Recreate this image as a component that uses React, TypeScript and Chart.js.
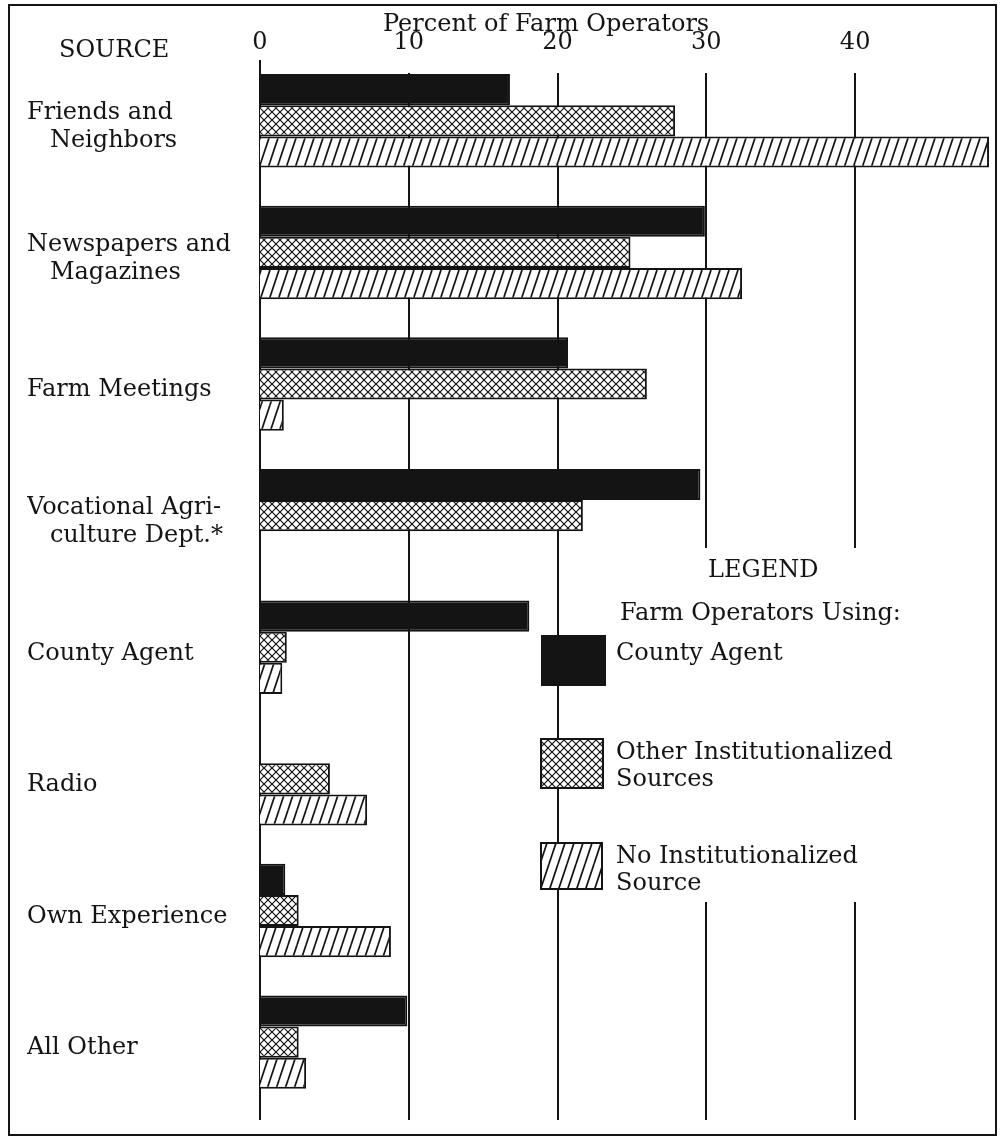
import React, { useEffect, useRef } from "react";
import { Chart, registerables } from "chart.js";

Chart.register(...registerables);

// ---------- data ----------
const CATEGORIES: string[][] = [
  ["Friends and", "   Neighbors"],
  ["Newspapers and", "   Magazines"],
  ["Farm Meetings"],
  ["Vocational Agri-", "   culture Dept.*"],
  ["County Agent"],
  ["Radio"],
  ["Own Experience"],
  ["All Other"],
];
const COUNTY_AGENT: (number | null)[] = [16.8, 29.9, 20.7, 29.6, 18.1, null, 1.7, 9.9];
const OTHER_INST: (number | null)[] = [27.9, 24.9, 26.0, 21.7, 1.8, 4.7, 2.6, 2.6];
const NO_INST: (number | null)[] = [49.0, 32.4, 1.6, null, 1.5, 7.2, 8.8, 3.1];
const X_TICKS = [0, 10, 20, 30, 40];
const X_MAX = 49.4;
const SERIES_NAMES = ["County Agent", "Other Institutionalized Sources", "No Institutionalized Source"];
const LEGEND_LINES: string[][] = [["County Agent"], ["Other Institutionalized", "Sources"], ["No Institutionalized", "Source"]];
const AXIS_TITLE = "Percent of Farm Operators";
const SOURCE_LABEL = "SOURCE";
const LEGEND_TITLE = "LEGEND";
const LEGEND_SUBTITLE = "Farm Operators Using:";

const INK = "#141414";
const FONT_FAMILY = '"DejaVu Serif", "Liberation Serif", serif';
const FONT_SIZE = 24;

function makeCross(): CanvasPattern | string {
  const c = document.createElement("canvas");
  c.width = 8;
  c.height = 8;
  const g = c.getContext("2d");
  if (!g) return "#fff";
  g.fillStyle = "#fff";
  g.fillRect(0, 0, 8, 8);
  g.strokeStyle = INK;
  g.lineWidth = 1.2;
  for (const k of [-8, 0, 8]) {
    g.beginPath();
    g.moveTo(k, 0);
    g.lineTo(k + 8, 8);
    g.stroke();
    g.beginPath();
    g.moveTo(k, 8);
    g.lineTo(k + 8, 0);
    g.stroke();
  }
  return g.createPattern(c, "repeat") || "#fff";
}

function makeHatch(): CanvasPattern | string {
  const w = 9;
  const h = 27;
  const c = document.createElement("canvas");
  c.width = w;
  c.height = h;
  const g = c.getContext("2d");
  if (!g) return "#fff";
  g.fillStyle = "#fff";
  g.fillRect(0, 0, w, h);
  g.strokeStyle = INK;
  g.lineWidth = 1.7;
  for (const k of [-1, 0, 1]) {
    g.beginPath();
    g.moveTo(k * w, h);
    g.lineTo(k * w + w, 0);
    g.stroke();
  }
  return g.createPattern(c, "repeat") || "#fff";
}

export default function App() {
  const ref = useRef<HTMLCanvasElement | null>(null);

  useEffect(() => {
    const canvas = ref.current;
    if (!canvas) return;
    const cross = makeCross();
    const hatch = makeHatch();
    const fills: any[] = [INK, cross, hatch];

    const decor = {
      id: "decor",
      beforeDraw(chart: any) {
        const ctx = chart.ctx;
        ctx.save();
        ctx.fillStyle = "#fff";
        ctx.fillRect(0, 0, chart.width, chart.height);
        ctx.restore();
      },
      beforeDatasetsDraw(chart: any) {
        const ctx = chart.ctx;
        const xs = chart.scales.x;
        ctx.save();
        ctx.strokeStyle = INK;
        ctx.lineWidth = 2;
        X_TICKS.forEach((v) => {
          const x = Math.round(xs.getPixelForValue(v));
          const top = v === 0 ? 60 : 73;
          const bottom = 1120;
          ctx.beginPath();
          if (v >= 30) {
            ctx.moveTo(x, top);
            ctx.lineTo(x, 548);
            ctx.moveTo(x, 902);
            ctx.lineTo(x, bottom);
          } else {
            ctx.moveTo(x, top);
            ctx.lineTo(x, bottom);
          }
          ctx.stroke();
        });
        ctx.restore();
      },
      afterDraw(chart: any) {
        const ctx = chart.ctx;
        ctx.save();
        ctx.fillStyle = INK;
        ctx.font = `${FONT_SIZE}px ${FONT_FAMILY}`;
        ctx.textBaseline = "middle";
        ctx.textAlign = "left";
        ctx.fillText(AXIS_TITLE, 383, 25);
        ctx.fillText(SOURCE_LABEL, 59, 51);

        // legend
        ctx.fillText(LEGEND_TITLE, 708, 571);
        ctx.fillText(LEGEND_SUBTITLE, 620, 614);
        const boxes = [
          { x: 542, y: 636, w: 63, h: 49, ty: 654 },
          { x: 541, y: 739, w: 62, h: 49, ty: 753 },
          { x: 541, y: 843, w: 61, h: 46, ty: 857 },
        ];
        boxes.forEach((b, i) => {
          ctx.fillStyle = fills[i];
          ctx.fillRect(b.x, b.y, b.w, b.h);
          ctx.strokeStyle = INK;
          ctx.lineWidth = 2;
          ctx.strokeRect(b.x, b.y, b.w, b.h);
          ctx.fillStyle = INK;
          LEGEND_LINES[i].forEach((line, j) => {
            ctx.fillText(line, 616, b.ty + j * 27);
          });
        });

        // frame
        ctx.strokeStyle = INK;
        ctx.lineWidth = 2;
        ctx.strokeRect(9, 5, 987, 1130);
        ctx.restore();
      },
    };

    const chart = new Chart(canvas, {
      type: "bar",
      data: {
        labels: CATEGORIES,
        datasets: [
          { label: SERIES_NAMES[0], data: COUNTY_AGENT, backgroundColor: fills[0] },
          { label: SERIES_NAMES[1], data: OTHER_INST, backgroundColor: fills[1] },
          { label: SERIES_NAMES[2], data: NO_INST, backgroundColor: fills[2] },
        ].map((d) => ({
          ...d,
          borderColor: INK,
          borderWidth: 2,
          borderSkipped: "start",
          categoryPercentage: 0.71,
          barPercentage: 1,
        })) as any,
      },
      options: {
        indexAxis: "y",
        responsive: false,
        animation: false,
        devicePixelRatio: 1,
        layout: { padding: { left: 27, right: 5, top: 0, bottom: 26 } },
        plugins: {
          legend: { display: false },
          title: { display: false },
          tooltip: { enabled: false },
        },
        scales: {
          x: {
            type: "linear",
            position: "top",
            min: 0,
            max: X_MAX,
            afterBuildTicks: (scale: any) => {
              scale.ticks = X_TICKS.map((v) => ({ value: v }));
            },
            afterFit: (scale: any) => {
              scale.height = 55;
            },
            grid: { display: false },
            border: { display: false },
            ticks: {
              padding: -10,
              color: INK,
              font: { family: FONT_FAMILY, size: FONT_SIZE },
              maxRotation: 0,
              autoSkip: false,
              callback: (v: any) => String(v),
            },
          },
          y: {
            type: "category",
            afterFit: (scale: any) => {
              scale.width = 233;
            },
            grid: { display: false },
            border: { display: false },
            ticks: {
              crossAlign: "far",
              labelOffset: 6,
              color: INK,
              autoSkip: false,
              font: { family: FONT_FAMILY, size: FONT_SIZE, lineHeight: 1.17 },
            },
          },
        },
      },
      plugins: [decor],
    } as any);

    return () => chart.destroy();
  }, []);

  return (
    <div style={{ position: "absolute", left: 0, top: 0, width: 1000, height: 1139, background: "#fff" }}>
      <canvas ref={ref} width={1000} height={1139} style={{ display: "block", width: 1000, height: 1139 }} />
    </div>
  );
}
